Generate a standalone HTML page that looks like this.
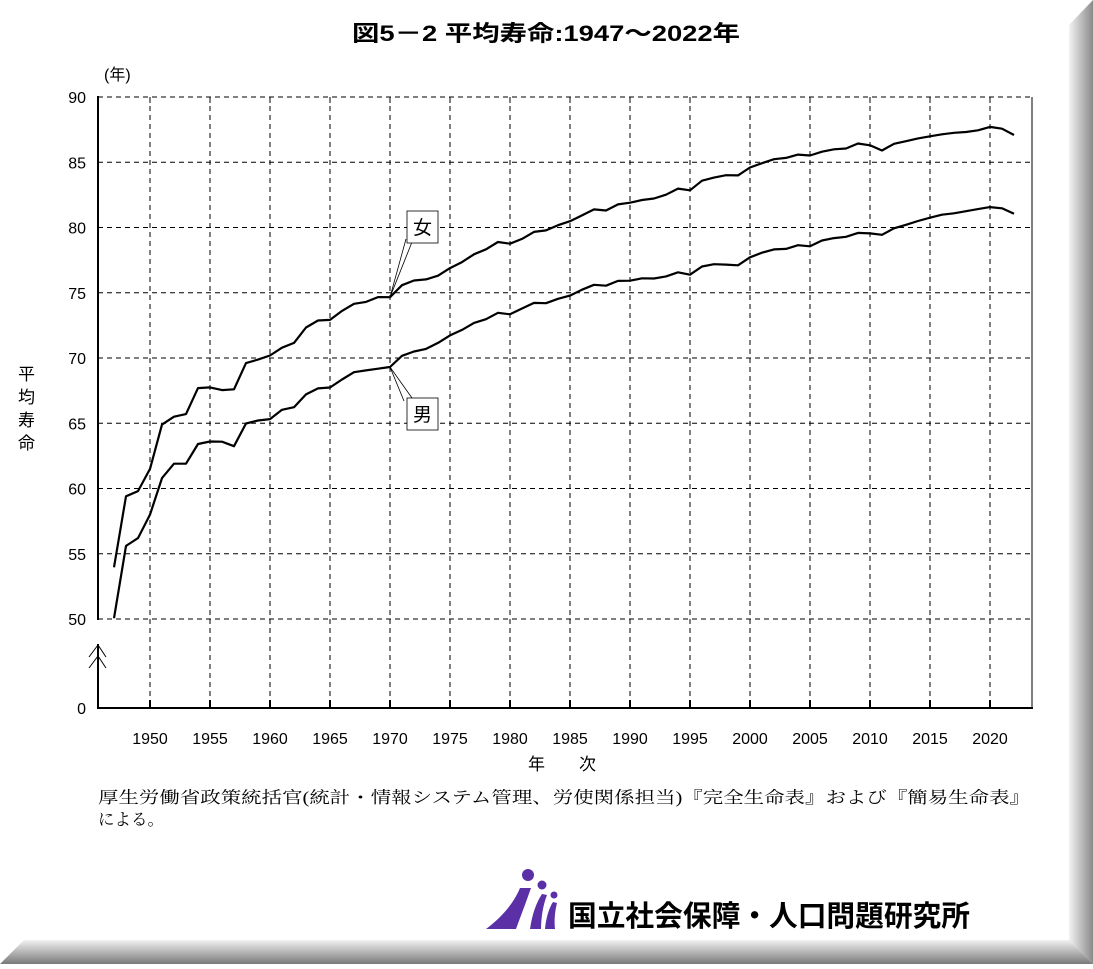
<!DOCTYPE html>
<html><head><meta charset="utf-8">
<style>
html,body{margin:0;padding:0;background:#fff;}
svg text{font-family:"Liberation Sans","Noto Sans CJK JP",sans-serif;fill:#000;}
</style></head>
<body>
<svg id="s" width="1093" height="964" viewBox="0 0 1093 964" xmlns="http://www.w3.org/2000/svg">
<defs>
<linearGradient id="gr" x1="0" x2="1" y1="0" y2="0"><stop offset="0" stop-color="#f2f2f2"/><stop offset="1" stop-color="#8a8a8a"/></linearGradient>
<linearGradient id="gb" x1="0" x2="0" y1="0" y2="1"><stop offset="0" stop-color="#f2f2f2"/><stop offset="1" stop-color="#7a7a7a"/></linearGradient>
</defs>
<polygon points="1069,25 1093,0 1093,964 1069,940" fill="url(#gr)"/>
<polygon points="0,964 24,940 1069,940 1093,964" fill="url(#gb)"/>
<text x="352" y="41" font-size="22" font-weight="bold" textLength="388" lengthAdjust="spacingAndGlyphs">図5－2 平均寿命:1947～2022年</text>
<text x="104" y="80" font-size="16">(年)</text>
<g id="grid" stroke="#000" stroke-width="1" stroke-dasharray="5,4" fill="none"></g>
<g id="ax"></g>
<g id="lab" font-size="16"></g>
<text x="562" y="770" font-size="17" text-anchor="middle">年　　次</text>
<text font-size="17"><tspan x="18" y="380">平</tspan><tspan x="18" y="403">均</tspan><tspan x="18" y="426">寿</tspan><tspan x="18" y="449">命</tspan></text>
<text x="98" y="803" font-size="16.5" textLength="932" lengthAdjust="spacingAndGlyphs" style="font-family:'Liberation Serif','Noto Serif CJK SC',serif">厚生労働省政策統括官(統計・情報システム管理、労使関係担当)『完全生命表』および『簡易生命表』</text>
<text x="98" y="825" font-size="16.5" style="font-family:'Liberation Serif','Noto Serif CJK SC',serif">による。</text>
<g fill="#5b2fa6">
<circle cx="528" cy="875" r="6"/><circle cx="542" cy="885" r="4.5"/><circle cx="554" cy="895" r="3.5"/>
<path d="M486,929 C505,915 515,900 520,888 L531,888 C525,905 520,918 516,929 Z"/>
<path d="M530,929 C532,915 536,903 542,894 L547,895 C543,905 541,918 541,929 Z"/>
<path d="M545,929 C546,918 549,908 553,902 L557,903 C555,911 554,920 555,929 Z"/>
</g>
<text x="568" y="926" font-size="29" font-weight="bold" fill="#111" textLength="402" lengthAdjust="spacingAndGlyphs">国立社会保障・人口問題研究所</text>
</svg>
<script>
var NS="http://www.w3.org/2000/svg";
function el(p,t,a,txt){var e=document.createElementNS(NS,t);for(var k in a)e.setAttribute(k,a[k]);if(txt!=null)e.textContent=txt;p.appendChild(e);return e;}
var s=document.getElementById('s'),g=document.getElementById('grid'),ax=document.getElementById('ax'),lab=document.getElementById('lab');
function Y(v){return 619-(v-50)*13.05;}
function X(yr){return 150+(yr-1950)*12;}
for(var v=50;v<=90;v+=5){var y=Y(v);el(g,'line',{x1:98,x2:1032,y1:y,y2:y});el(lab,'text',{x:86,y:y+6,'text-anchor':'end'},v);}
el(lab,'text',{x:86,y:714,'text-anchor':'end'},0);
for(var yr=1950;yr<=2020;yr+=5){var x=X(yr);el(g,'line',{x1:x,x2:x,y1:97,y2:708});el(ax,'line',{x1:x,x2:x,y1:700,y2:708,stroke:'#000','stroke-width':2});el(ax,'line',{x1:x,x2:x,y1:97,y2:103,stroke:'#000','stroke-width':1});el(lab,'text',{x:x,y:744,'text-anchor':'middle'},yr);}
el(ax,'line',{x1:1032,x2:1032,y1:97,y2:708,stroke:'#000','stroke-width':1});
el(ax,'line',{x1:98,x2:98,y1:644,y2:709,stroke:'#000','stroke-width':2});
el(ax,'line',{x1:98,x2:98,y1:96,y2:620,stroke:'#000','stroke-width':2});
el(ax,'line',{x1:97,x2:1033,y1:708,y2:708,stroke:'#000','stroke-width':2});
el(ax,'path',{d:'M89,657 L98,645 L106,657 M89,668 L98,656 L106,668',stroke:'#000','stroke-width':1,fill:'none'});
var M=[50.06,55.6,56.2,58.0,60.8,61.9,61.9,63.41,63.60,63.59,63.24,64.98,65.21,65.32,66.03,66.23,67.21,67.67,67.74,68.35,68.91,69.05,69.18,69.31,70.17,70.50,70.70,71.16,71.73,72.15,72.69,72.97,73.46,73.35,73.79,74.22,74.20,74.54,74.78,75.23,75.61,75.54,75.91,75.92,76.11,76.09,76.25,76.57,76.38,77.01,77.19,77.16,77.10,77.72,78.07,78.32,78.36,78.64,78.56,79.00,79.19,79.29,79.59,79.55,79.44,79.94,80.21,80.50,80.75,80.98,81.09,81.25,81.41,81.56,81.47,81.05];
var F=[53.96,59.4,59.8,61.5,64.9,65.5,65.7,67.69,67.75,67.54,67.60,69.61,69.88,70.19,70.79,71.16,72.34,72.87,72.92,73.61,74.15,74.30,74.67,74.66,75.58,75.94,76.02,76.31,76.89,77.35,77.95,78.33,78.89,78.76,79.13,79.66,79.78,80.18,80.48,80.93,81.39,81.30,81.77,81.90,82.11,82.22,82.51,82.98,82.85,83.59,83.82,84.01,83.99,84.60,84.93,85.23,85.33,85.59,85.52,85.81,85.99,86.05,86.44,86.30,85.90,86.41,86.61,86.83,86.99,87.14,87.26,87.32,87.45,87.71,87.57,87.09];
[M,F].forEach(function(d){var p=d.map(function(v,i){return X(1947+i).toFixed(1)+','+Y(v).toFixed(1);}).join(' ');el(s,'polyline',{points:p,fill:'none',stroke:'#000','stroke-width':2.2,'stroke-linejoin':'round'});});
var fy=Y(74.66),my=Y(69.31);
el(s,'path',{d:'M390,'+fy+' L406,239 M390,'+fy+' L412,242 M390,'+my+' L404,401 M390,'+my+' L412,398',stroke:'#000','stroke-width':0.8,fill:'none'});
el(s,'rect',{x:407,y:211,width:31,height:32,fill:'#fff',stroke:'#000','stroke-width':0.8});
el(s,'rect',{x:407,y:398,width:31,height:32,fill:'#fff',stroke:'#000','stroke-width':0.8});
el(s,'text',{x:422.5,y:234,'font-size':19,'text-anchor':'middle'},'女');
el(s,'text',{x:422.5,y:421,'font-size':19,'text-anchor':'middle'},'男');
</script>
</body></html>
